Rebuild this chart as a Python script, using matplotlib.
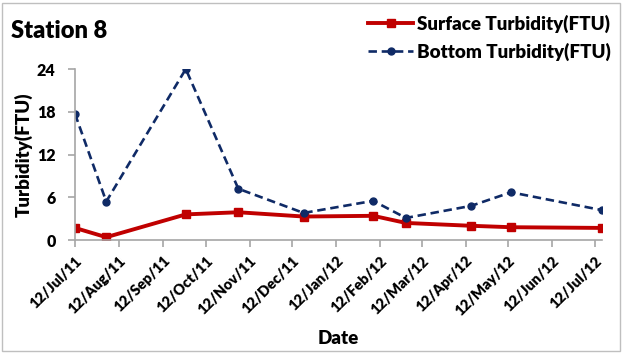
import numpy as np
import pandas as pd
import matplotlib
matplotlib.use("Agg")
from matplotlib import pyplot as plt
import matplotlib.dates as mdates
from matplotlib.patches import Rectangle

plt.rcParams['font.family'] = ['Lato', 'DejaVu Sans']
plt.rcParams['font.weight'] = 'bold'

# sampling dates
dates = pd.to_datetime(["2011-07-12", "2011-08-03", "2011-09-28", "2011-11-04",
                        "2011-12-20", "2012-02-07", "2012-03-01", "2012-04-16",
                        "2012-05-14", "2012-07-17"])
surface = [1.7, 0.4, 3.6, 3.9, 3.3, 3.4, 2.4, 2.0, 1.8, 1.7]
bottom = [17.7, 5.4, 24.0, 7.2, 3.8, 5.5, 3.1, 4.8, 6.7, 4.2]
tick_dates = pd.date_range("2011-07-12", periods=13, freq=pd.DateOffset(months=1))
yticks = [0, 6, 12, 18, 24]

red = "#C00000"
navy = "#0F2A66"
grey = "#A6A6A6"

fig = plt.figure(figsize=(6.22, 3.53), dpi=100)
ax = fig.add_axes([0.1206, 0.320, 0.847, 0.4844])

ax.plot(dates, surface, color=red, lw=2.8, marker='s', ms=5.5, label="Surface Turbidity(FTU)")
ax.plot(dates, bottom, color=navy, lw=1.9, ls=(0, (3.2, 1.8)), marker='o', ms=5,
        label="Bottom Turbidity(FTU)")

ax.set_xlim(dates[0], dates[-1])
ax.set_ylim(0, 24)
ax.set_yticks(yticks)
ax.set_xticks(tick_dates)
ax.xaxis.set_major_formatter(mdates.DateFormatter("%d/%b/%y"))
plt.setp(ax.get_xticklabels(), rotation=45, ha='right', rotation_mode='anchor',
         fontsize=10.5, fontweight='heavy')
plt.setp(ax.get_yticklabels(), fontsize=11.5, fontweight='heavy')

for s in ['top', 'right']:
    ax.spines[s].set_visible(False)
for s in ['left', 'bottom']:
    ax.spines[s].set_color(grey)
    ax.spines[s].set_linewidth(1.2)
ax.tick_params(axis='both', color=grey, length=5, width=1.2)
ax.tick_params(axis='y', pad=9)
ax.tick_params(axis='x', pad=5)

ax.set_xlabel("Date", fontsize=13.5, fontweight='heavy', labelpad=9)
ax.set_ylabel("Turbidity(FTU)", fontsize=13.5, fontweight='heavy', labelpad=3)

fig.text(0.018, 0.912, "Station 8", fontsize=17, fontweight='heavy', va='center')
fig.legend(loc='upper right', bbox_to_anchor=(1.0, 0.99), frameon=False,
           prop={'size': 13.5, 'weight': 'heavy'},
           handlelength=2.4, handletextpad=0.2, labelspacing=0.5, borderaxespad=0.2)

fig.add_artist(Rectangle((0.003, 0.006), 0.994, 0.986, transform=fig.transFigure,
                         fill=False, ec="#BFBFBF", lw=1))

fig.savefig("out.png", dpi=100)
